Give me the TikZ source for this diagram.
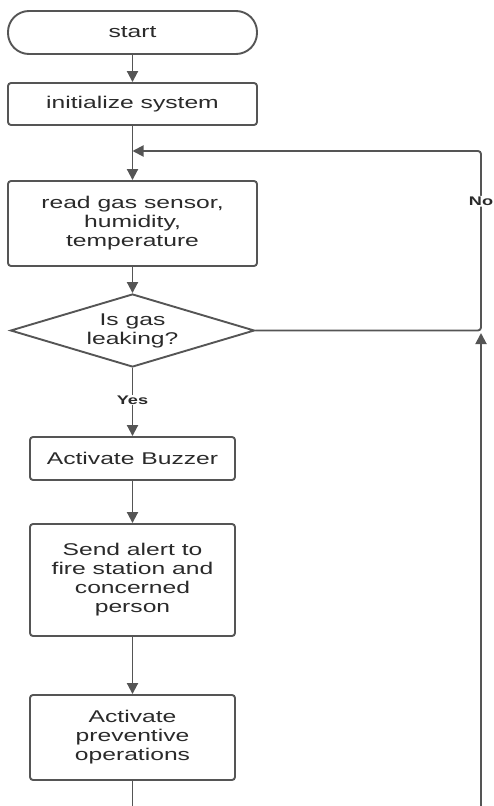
\documentclass[tikz,border=0pt]{standalone}
\usepackage{fontspec}
\setmainfont{Liberation Sans}
\newfontfamily\wide[FakeStretch=1.45]{Liberation Sans}
\usetikzlibrary{arrows.meta,shapes.geometric}
\definecolor{ln}{HTML}{555555}
\definecolor{tx}{HTML}{2A2A2A}
\begin{document}
\begin{tikzpicture}[x=1pt,y=-1pt,
  box/.style={draw=ln,line width=1.9pt,rounded corners=3pt,fill=white,inner sep=0pt,
    text=tx,align=center,font=\wide\fontsize{17}{19}\selectfont},
  term/.style={box,rounded corners=21pt},
  dec/.style={draw=ln,line width=1.9pt,shape=diamond,aspect=3.34,inner sep=0pt,text=tx,align=center,
    font=\wide\fontsize{17}{19}\selectfont},
  conn/.style={draw=ln,line width=1.9pt,-{Triangle[length=11pt,width=11pt]}},
  plain/.style={draw=ln,line width=1.9pt},
  lbl/.style={fill=white,inner sep=1pt,text=tx,font=\wide\bfseries\fontsize{12.5}{14}\selectfont}]
\useasboundingbox (0,0) rectangle (493,806);
\node[term,minimum width=249pt,minimum height=43pt] (start) at (132.5,32.5) {start};
\node[box,minimum width=249pt,minimum height=42pt] (init) at (132.5,104) {initialize system};
\node[box,minimum width=249pt,minimum height=85pt] (read) at (132.5,223.5) {read gas sensor,\\humidity,\\temperature};
\node[dec,minimum width=244pt,minimum height=73pt] (leak) at (132.5,330.5) {Is gas\\leaking?};
\node[box,minimum width=205pt,minimum height=43pt] (buzz) at (132.5,458.5) {Activate Buzzer};
\node[box,minimum width=205pt,minimum height=112pt] (send) at (132.5,580) {Send alert to\\fire station and\\concerned\\person};
\node[box,minimum width=205pt,minimum height=85pt] (prev) at (132.5,737.5) {Activate\\preventive\\operations};
\coordinate (merge) at (132.5,151);
\coordinate (corner1) at (481,330.5);
\coordinate (corner2) at (481,151);
\coordinate (down) at (132.5,812);
\coordinate (up) at (481,812);
\coordinate (uptip) at (481,333);
\draw[conn] (start) -- (init);
\draw[conn] (init) -- (read);
\draw[conn] (read) -- (leak);
\draw[conn] (leak) -- node[lbl,pos=0.47] {Yes} (buzz);
\draw[conn] (buzz) -- (send);
\draw[conn] (send) -- (prev);
\draw[plain] (prev) -- (down);
\draw[conn,rounded corners=3pt] (leak.east) -- (corner1) -- node[lbl,pos=0.72] {No} (corner2) -- (merge);
\draw[conn] (up) -- (uptip);
\end{tikzpicture}
\end{document}
